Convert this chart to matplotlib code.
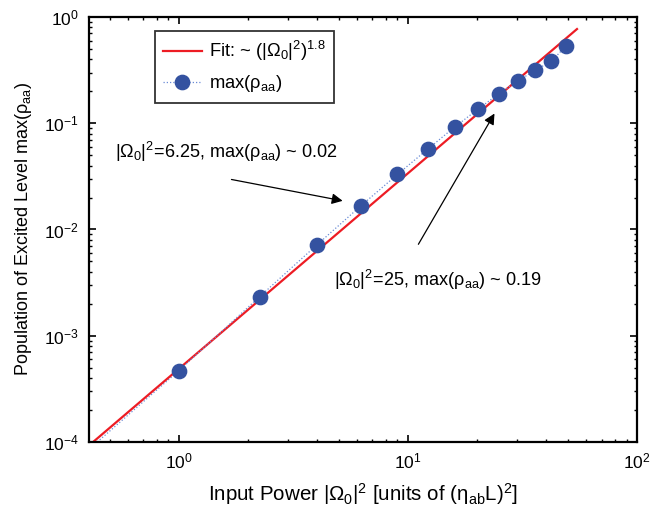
import matplotlib
matplotlib.use('Agg')
import matplotlib.pyplot as plt
from matplotlib.ticker import LogLocator, NullFormatter

# input power |Omega_0|^2 and peak excited population
power = [1.0, 2.25, 4.0, 6.25, 9.0, 12.25, 16.0, 20.25, 25.0, 30.25, 36.0, 42.25, 49.0]
rho_max = [4.7e-4, 2.33e-3, 7.15e-3, 0.0168, 0.033, 0.0575, 0.0922, 0.136,
           0.190, 0.250, 0.317, 0.382, 0.535]

# dotted simulation curve continues below the first marker
tail_x = [0.44, 1.0]
tail_y = [1.0e-4, 4.7e-4]

# fitted power law, end points of the red line
fit_x = [0.422, 54.7]
fit_y = [1.0e-4, 0.77]

plt.rcParams['font.family'] = ['Liberation Sans', 'DejaVu Sans']
plt.rcParams['mathtext.default'] = 'regular'

RED = '#ED1C24'
BLUE = '#3452A0'
DOT = '#6A8BD6'

fig = plt.figure(figsize=(6.68, 5.13), dpi=100)
ax = fig.add_axes([0.1325, 0.1384, 0.8211, 0.8285])

ax.plot(fit_x, fit_y, color=RED, linewidth=1.6,
        label=r'Fit: ~ (|Ω$_0$|$^2$)$^{1.8}$', zorder=2)
ax.plot(tail_x, tail_y, color=DOT, linewidth=0.9, linestyle=(0, (1, 1.6)), zorder=1)
ax.plot(power, rho_max, color=DOT, linewidth=0.9, linestyle=(0, (1, 1.6)),
        marker='o', markersize=10.3, markerfacecolor=BLUE, markeredgecolor=BLUE,
        label=r'max(ρ$_{aa}$)', zorder=3)

ax.set_xscale('log')
ax.set_yscale('log')
ax.set_xlim(0.403, 100)
ax.set_ylim(1e-4, 1)

ax.xaxis.set_minor_locator(LogLocator(base=10, subs=range(2, 10), numticks=20))
ax.yaxis.set_minor_locator(LogLocator(base=10, subs=range(2, 10), numticks=20))
ax.xaxis.set_minor_formatter(NullFormatter())
ax.yaxis.set_minor_formatter(NullFormatter())
ax.tick_params(which='both', direction='in', top=True, right=True, labelsize=12.5)
ax.tick_params(which='major', length=5, width=1.2, pad=7)
ax.tick_params(which='minor', length=2.5, width=1.0)
for s in ax.spines.values():
    s.set_linewidth(1.6)

ax.set_xlabel(r'Input Power |Ω$_0$|$^2$ [units of (η$_{ab}$L)$^2$]', fontsize=14.8, labelpad=7)
ax.set_ylabel(r'Population of Excited Level max(ρ$_{aa}$)', fontsize=13, labelpad=7)

leg = ax.legend(loc='upper left', bbox_to_anchor=(0.121, 0.967), borderaxespad=0,
                fontsize=13.2, frameon=True, fancybox=False, handlelength=2.1,
                handletextpad=0.4, borderpad=0.45, labelspacing=0.55)
leg.get_frame().set_edgecolor('black')
leg.get_frame().set_linewidth(1.3)

ax.annotate(r'|Ω$_0$|$^2$=6.25, max(ρ$_{aa}$) ~ 0.02', xy=(0.525, 0.0536),
            fontsize=13.1, va='center', ha='left')
ax.annotate('', xy=(5.33, 0.0184), xytext=(1.65, 0.0299),
            arrowprops=dict(arrowstyle='-|>', color='black', lw=0.9, mutation_scale=16))
ax.annotate(r'|Ω$_0$|$^2$=25, max(ρ$_{aa}$) ~ 0.19', xy=(4.75, 0.00335),
            fontsize=13.1, va='center', ha='left')
ax.annotate('', xy=(24.2, 0.13), xytext=(10.95, 0.00689),
            arrowprops=dict(arrowstyle='-|>', color='black', lw=0.9, mutation_scale=16))

fig.savefig('out.png', dpi=100)
